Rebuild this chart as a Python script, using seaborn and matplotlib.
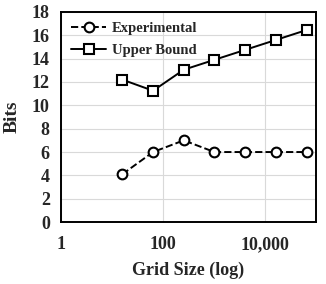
import matplotlib
matplotlib.use("Agg")
import matplotlib.pyplot as plt
import matplotlib.ticker as mticker
import seaborn as sns
import pandas as pd

# dati
grid_sizes = [16, 64, 256, 1024, 4096, 16384, 65536]
experimental = [4.1, 6, 7, 6, 6, 6, 6]
upper_bound = [12.2, 11.25, 13.05, 13.9, 14.75, 15.6, 16.45]

sns.set_style("white")
plt.rcParams['font.family'] = ['Liberation Serif', 'DejaVu Serif']
plt.rcParams['font.weight'] = 'bold'

df_exp = pd.DataFrame({"x": grid_sizes, "y": experimental})
df_up = pd.DataFrame({"x": grid_sizes, "y": upper_bound})

fig = plt.figure(figsize=(3.26, 2.84), dpi=100)
ax = fig.add_axes([0.187, 0.218, 0.782, 0.740])

sns.lineplot(data=df_exp, x="x", y="y", ax=ax, color="black", linestyle="--",
             marker="o", markersize=7, markerfacecolor="white", markeredgecolor="black",
             markeredgewidth=1.5, linewidth=1.4, label="Experimental")
sns.lineplot(data=df_up, x="x", y="y", ax=ax, color="black", linestyle="-",
             marker="s", markersize=7, markerfacecolor="white", markeredgecolor="black",
             markeredgewidth=1.5, linewidth=1.4, label="Upper Bound")

ax.set_xscale("log")
ax.set_xlim(1, 100000)
ax.set_ylim(0, 18)
ax.set_yticks(range(0, 19, 2))
ax.xaxis.set_major_locator(mticker.FixedLocator([1, 100, 10000]))
ax.xaxis.set_minor_locator(mticker.NullLocator())
ax.xaxis.set_major_formatter(mticker.FuncFormatter(lambda v, p: f"{int(v):,}"))
ax.grid(True, color="#d9d9d9", linewidth=0.8)
ax.set_axisbelow(True)

for s in ax.spines.values():
    s.set_color("black")
    s.set_linewidth(1.4)

ax.tick_params(axis="both", labelsize=13, length=0)
ax.tick_params(axis="x", pad=10)
ax.tick_params(axis="y", pad=8)
ax.set_xlabel("Grid Size (log)", fontsize=13, fontweight="bold", labelpad=6)
ax.set_ylabel("Bits", fontsize=14, fontweight="bold", labelpad=8)

ax.legend(loc="upper left", frameon=False, fontsize=10.5, handlelength=2.4,
          borderaxespad=0.3, labelspacing=0.6, handletextpad=0.4,
          bbox_to_anchor=(0.0, 1.0))

fig.savefig("out.png", dpi=100)
